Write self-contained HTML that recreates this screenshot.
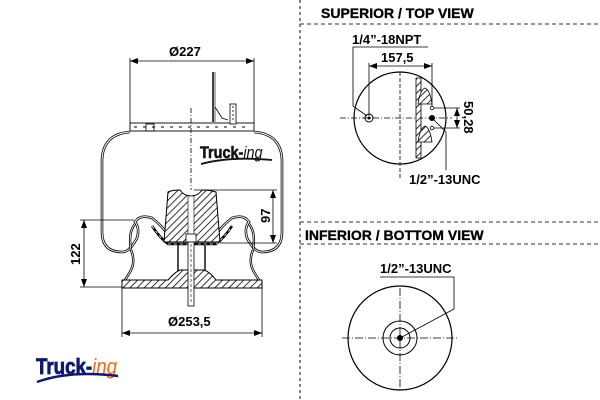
<!DOCTYPE html>
<html><head><style>
html,body{margin:0;padding:0;background:#fff;}
svg{display:block;}
text{font-family:"Liberation Sans",Arial,sans-serif;font-weight:bold;}
</style></head><body>
<svg width="600" height="400" viewBox="0 0 600 400" xmlns="http://www.w3.org/2000/svg">
<defs>
<pattern id="h" width="5" height="5" patternUnits="userSpaceOnUse" patternTransform="rotate(45)">
<rect width="5" height="5" fill="#fff"/><line x1="0" y1="0" x2="0" y2="5" stroke="#000" stroke-width="1.6"/>
</pattern>
<marker id="a" markerWidth="8" markerHeight="6" refX="8" refY="3" orient="auto-start-reverse" markerUnits="userSpaceOnUse"><path d="M0,0 L8,3 L0,6z" fill="#000"/></marker>
</defs>
<line x1="300" y1="0" x2="300" y2="400" stroke="#333" stroke-width="1.2" stroke-dasharray="3,3"/>
<line x1="300" y1="24" x2="600" y2="24" stroke="#333" stroke-width="1" stroke-dasharray="4,3"/>
<line x1="300" y1="222" x2="600" y2="222" stroke="#333" stroke-width="1" stroke-dasharray="4,3"/>
<line x1="300" y1="244" x2="600" y2="244" stroke="#333" stroke-width="1" stroke-dasharray="4,3"/>
<text x="321" y="18" font-size="14" stroke="#000" stroke-width="0.3">SUPERIOR / TOP VIEW</text>
<text x="305" y="240" font-size="14" stroke="#000" stroke-width="0.3">INFERIOR / BOTTOM VIEW</text>

<circle cx="400" cy="118" r="46" fill="none" stroke="#000" stroke-width="1.2"/>
<line x1="340" y1="118" x2="452" y2="118" stroke="#000" stroke-width="0.8" stroke-dasharray="6,2,1,2"/>
<line x1="400" y1="72" x2="400" y2="180" stroke="#000" stroke-width="0.8" stroke-dasharray="4,2"/>
<path d="M416,78 L421,78 L421,158 L416,158 Z" fill="url(#h)" stroke="#000" stroke-width="0.8"/>
<path d="M418,104 Q420,90 425,88 Q430,90 432,104 Z M418,142 Q420,128 425,126 Q430,128 432,142 Z" fill="url(#h)" stroke="#000" stroke-width="0.8"/>
<circle cx="369" cy="118" r="4" fill="none" stroke="#000" stroke-width="1"/><circle cx="369" cy="118" r="1.5" fill="#000"/>
<circle cx="432" cy="118" r="3" fill="#000"/>
<circle cx="432" cy="108" r="1.8" fill="none" stroke="#000" stroke-width="0.8"/>
<circle cx="432" cy="128" r="1.8" fill="none" stroke="#000" stroke-width="0.8"/>
<text x="352" y="44" font-size="13">1/4”-18NPT</text>
<polyline points="428,47 353,47 353,106 367,116" fill="none" stroke="#000" stroke-width="0.8"/>
<text x="381" y="62" font-size="13">157,5</text>
<line x1="369" y1="66" x2="432" y2="66" stroke="#000" stroke-width="0.8" marker-start="url(#a)" marker-end="url(#a)"/>
<line x1="369" y1="63" x2="369" y2="116" stroke="#000" stroke-width="0.8"/>
<line x1="432" y1="63" x2="432" y2="106" stroke="#000" stroke-width="0.8"/>
<line x1="434" y1="108" x2="460" y2="108" stroke="#000" stroke-width="0.8"/>
<line x1="434" y1="128" x2="460" y2="128" stroke="#000" stroke-width="0.8"/>
<line x1="457" y1="108" x2="457" y2="128" stroke="#000" stroke-width="0.8" marker-start="url(#a)" marker-end="url(#a)"/>
<text transform="translate(464,101) rotate(90)" font-size="13">50,28</text>
<polyline points="433,119 446,132 446,170" fill="none" stroke="#000" stroke-width="0.8"/>
<text x="409" y="184" font-size="13">1/2”-13UNC</text>

<circle cx="400" cy="338" r="52" fill="none" stroke="#000" stroke-width="1.2"/>
<circle cx="400" cy="338" r="17" fill="none" stroke="#000" stroke-width="1"/>
<circle cx="400" cy="338" r="10" fill="none" stroke="#000" stroke-width="1"/>
<circle cx="400" cy="338" r="3" fill="#000"/>
<line x1="342" y1="338" x2="458" y2="338" stroke="#000" stroke-width="0.8" stroke-dasharray="8,2,1,2"/>
<line x1="400" y1="288" x2="400" y2="392" stroke="#000" stroke-width="0.8" stroke-dasharray="8,2,1,2"/>
<text x="380" y="273" font-size="13">1/2”-13UNC</text>
<polyline points="380,277 454,277 454,309 402,337" fill="none" stroke="#000" stroke-width="0.8"/>

<text x="169" y="56" font-size="13">Ø227</text>
<line x1="130" y1="61" x2="254" y2="61" stroke="#000" stroke-width="0.8" marker-start="url(#a)" marker-end="url(#a)"/>
<line x1="130" y1="58" x2="130" y2="124" stroke="#000" stroke-width="0.8"/>
<line x1="254" y1="58" x2="254" y2="124" stroke="#000" stroke-width="0.8"/>
<rect x="130" y="123" width="124" height="8" fill="#fff" stroke="#000" stroke-width="0.9"/>
<line x1="134" y1="127" x2="250" y2="127" stroke="#000" stroke-width="1" stroke-dasharray="3,6"/>
<rect x="146" y="124" width="8" height="7" fill="none" stroke="#000" stroke-width="0.8"/>
<line x1="213" y1="72" x2="213" y2="122" stroke="#000" stroke-width="1.5"/>
<line x1="215" y1="72" x2="215" y2="122" stroke="#000" stroke-width="0.6"/>
<polyline points="215,107 222,118 228,120" fill="none" stroke="#000" stroke-width="0.8"/>
<rect x="230" y="104" width="6" height="20" fill="#fff" stroke="#000" stroke-width="0.8"/>
<line x1="233" y1="106" x2="233" y2="122" stroke="#000" stroke-width="0.8" stroke-dasharray="2,2"/>
<line x1="191" y1="108" x2="191" y2="190" stroke="#000" stroke-width="0.8" stroke-dasharray="5,2,1,2"/>
<path id="b" d="M130,132 Q103,134 102,160 L102,232 Q102,252 122,252 Q130,252 137,238 Q140,228 135,222 Q140,214 152,218 Q160,224 166,232 L218,232 Q224,224 232,218 Q244,214 249,222 Q244,228 247,238 Q254,252 262,252 Q282,252 282,232 L282,160 Q281,134 254,132" fill="none" stroke="#000" stroke-width="2.6"/>
<path d="M130,132 Q103,134 102,160 L102,232 Q102,252 122,252 Q130,252 137,238 Q140,228 135,222 Q140,214 152,218 Q160,224 166,232 L218,232 Q224,224 232,218 Q244,214 249,222 Q244,228 247,238 Q254,252 262,252 Q282,252 282,232 L282,160 Q281,134 254,132" fill="none" stroke="#fff" stroke-width="1"/>
<path d="M135,224 Q128,232 131,250 Q136,262 130,272 L125,280 M249,224 Q256,232 253,250 Q248,262 254,272 L259,280" fill="none" stroke="#000" stroke-width="2.4"/>
<path d="M135,224 Q128,232 131,250 Q136,262 130,272 L125,280 M249,224 Q256,232 253,250 Q248,262 254,272 L259,280" fill="none" stroke="#fff" stroke-width="0.8"/>
<path d="M152,226 Q160,238 168,244 L216,244 Q224,238 232,226" fill="none" stroke="#000" stroke-width="2.5"/>
<path d="M152,226 Q160,238 168,244 L216,244 Q224,238 232,226" fill="none" stroke="#fff" stroke-width="0.8" stroke-dasharray="3,3"/>
<path d="M168,192 Q172,190 180,190 Q184,196 191,196 Q198,196 202,190 Q210,190 216,192 L220,242 L164,242 Z" fill="url(#h)" stroke="#000" stroke-width="1"/>
<rect x="188" y="196" width="6" height="46" fill="#fff" stroke="#000" stroke-width="0.6"/>
<rect x="186" y="234" width="10" height="8" fill="#fff" stroke="#000" stroke-width="0.8"/>
<line x1="178" y1="245" x2="178" y2="272" stroke="#000" stroke-width="1.4"/>
<line x1="205" y1="245" x2="205" y2="272" stroke="#000" stroke-width="1.4"/>
<path d="M122,280 L168,280 Q175,272 180,270 L204,270 Q210,272 216,280 L262,280 L262,288 L122,288 Z" fill="url(#h)" stroke="#000" stroke-width="1"/>
<rect x="188" y="242" width="6" height="64" fill="#fff" stroke="#000" stroke-width="0.8"/>
<line x1="191" y1="244" x2="191" y2="304" stroke="#000" stroke-width="0.6" stroke-dasharray="3,2"/>
<line x1="194" y1="190" x2="277" y2="190" stroke="#000" stroke-width="0.8"/>
<line x1="220" y1="243" x2="277" y2="243" stroke="#000" stroke-width="0.8"/>
<line x1="273" y1="190" x2="273" y2="243" stroke="#000" stroke-width="0.8" marker-start="url(#a)" marker-end="url(#a)"/>
<text transform="translate(270,223) rotate(-90)" font-size="13">97</text>
<line x1="80" y1="220" x2="134" y2="220" stroke="#000" stroke-width="0.8"/>
<line x1="80" y1="287" x2="122" y2="287" stroke="#000" stroke-width="0.8"/>
<line x1="84" y1="220" x2="84" y2="287" stroke="#000" stroke-width="0.8" marker-start="url(#a)" marker-end="url(#a)"/>
<text transform="translate(80,265) rotate(-90)" font-size="13">122</text>
<line x1="122" y1="288" x2="122" y2="337" stroke="#000" stroke-width="0.8"/>
<line x1="262" y1="288" x2="262" y2="337" stroke="#000" stroke-width="0.8"/>
<line x1="122" y1="333" x2="262" y2="333" stroke="#000" stroke-width="0.8" marker-start="url(#a)" marker-end="url(#a)"/>
<text x="168" y="326" font-size="13">Ø253,5</text>
<text x="200" y="158" font-size="17" fill="#111" stroke="#111" stroke-width="0.6" transform="translate(200,158) scale(0.85,1) translate(-200,-158)">Truck-<tspan font-style="italic" font-weight="normal" stroke-width="0">ing</tspan></text>
<path d="M201,164 Q230,156 272,160" fill="none" stroke="#111" stroke-width="1.8"/>
<text x="36" y="374" font-size="22" fill="#0d1a6e" stroke="#0d1a6e" stroke-width="0.8" transform="translate(36,374) scale(0.85,1) translate(-36,-374)">Truck-<tspan fill="#f06a1a" stroke="#f06a1a" stroke-width="0" font-style="italic" font-weight="normal">ing</tspan></text>
<path d="M37,382 Q70,370 118,376" fill="none" stroke="#0d1a6e" stroke-width="2.4"/>
</svg>
</body></html>
